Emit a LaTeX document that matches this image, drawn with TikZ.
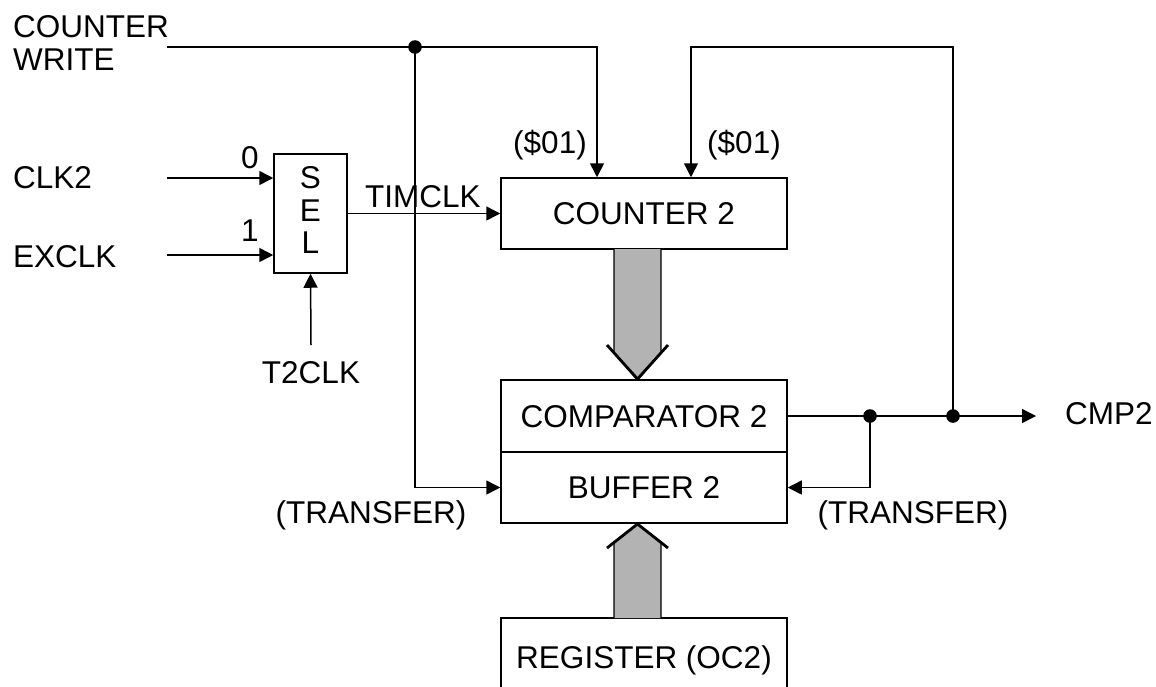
\documentclass[tikz,border=0pt]{standalone}
\usepackage{fontspec}
\setmainfont{Liberation Sans}
\usetikzlibrary{arrows.meta}
\definecolor{busgray}{RGB}{179,179,179}
\newcommand\labfont{\fontsize{31.5}{33}\selectfont}
\newcommand\selfont{\fontsize{31.5}{32.5}\selectfont}
\begin{document}
\begin{tikzpicture}[x=1pt,y=-1pt,
  every node/.style={font=\labfont, inner sep=0pt},
  wire/.style={line width=1.5pt},
  arr/.style={wire, -{Triangle[length=14pt,width=14pt]}},
  box/.style={draw, line width=1.5pt, minimum width=286pt, text height=22.5pt, text depth=0pt},
  busbody/.style={fill=busgray, draw, line width=1.3pt},
  bushead/.style={line width=2.8pt, line cap=butt, line join=miter},
]
\useasboundingbox (0,0) rectangle (1156,686);
\clip (0,0) rectangle (1156,686);

% blocks
\node[box, minimum height=71pt] (counter) at (644,213.5) {COUNTER 2};
\node[box, minimum height=72pt] (comp) at (644,416) {COMPARATOR 2};
\node[box, minimum height=71pt] (buffer) at (644,487.5) {BUFFER 2};
\node[box, minimum height=78pt] (register) at (644,657) {REGISTER (OC2)};
\node[draw, line width=1.5pt, minimum width=73pt, minimum height=119pt] (sel) at (310.5,213.5) {};
\node[anchor=north, align=center, font=\selfont] (seltext) at (310.5,166.4) {S\\E\\L};

% labels
\node[anchor=north west, align=left] (cwlabel) at (13,15.4) {COUNTER\\WRITE};
\node[anchor=base west] (clklabel) at (13,188) {CLK2};
\node[anchor=base west] (exlabel) at (13,267) {EXCLK};
\node[anchor=base] (zero) at (250,168) {0};
\node[anchor=base] (one) at (250,241) {1};
\node[anchor=base west] (timclk) at (365,207) {TIMCLK};
\node[anchor=base] (s01a) at (550,153) {(\$01)};
\node[anchor=base] (s01b) at (744,153) {(\$01)};
\node[anchor=base] (t2clk) at (311,383) {T2CLK};
\node[anchor=base] (trl) at (371,523) {(TRANSFER)};
\node[anchor=base] (trr) at (913,523) {(TRANSFER)};
\node[anchor=base west] (cmp2) at (1065,424) {CMP2};

% free ends and junctions
\coordinate (clkin) at (167,178);
\coordinate (exin) at (167,255);
\coordinate (t2in) at (311,345);
\coordinate (cwin) at (167,47);
\coordinate (j1) at (415,47);
\coordinate (j2) at (870,416);
\coordinate (j3) at (953,416);
\coordinate (cmpout) at (1036,416);

% connectors
\draw[arr] (clkin) -- (clkin -| sel.west);
\draw[arr] (exin) -- (exin -| sel.west);
\draw[arr] (t2in) -- (sel.south);
\draw[arr] (sel.east) -- (counter.west);
\draw[arr] (cwin) -| ([xshift=-47pt]counter.north);
\draw[arr] (j1) |- (buffer.west);
\draw[arr] (comp.east) -- (cmpout);
\draw[arr] (j3) |- ([xshift=47pt]counter.north |- cwin) -- ([xshift=47pt]counter.north);
\draw[arr] (j2) |- (buffer.east);
\fill (j1) circle (6.8pt);
\fill (j2) circle (6.8pt);
\fill (j3) circle (6.8pt);

% buses
\filldraw[busbody] (614,249) -- (614,353) -- (637.5,380) -- (661,353) -- (661,249);
\draw[bushead] (607,345) -- (637.5,379) -- (668,345);
\filldraw[busbody] (614,618) -- (614,542) -- (637.5,524) -- (661,542) -- (661,618);
\draw[bushead] (607,548) -- (637.5,524) -- (668,548);
\end{tikzpicture}
\end{document}
